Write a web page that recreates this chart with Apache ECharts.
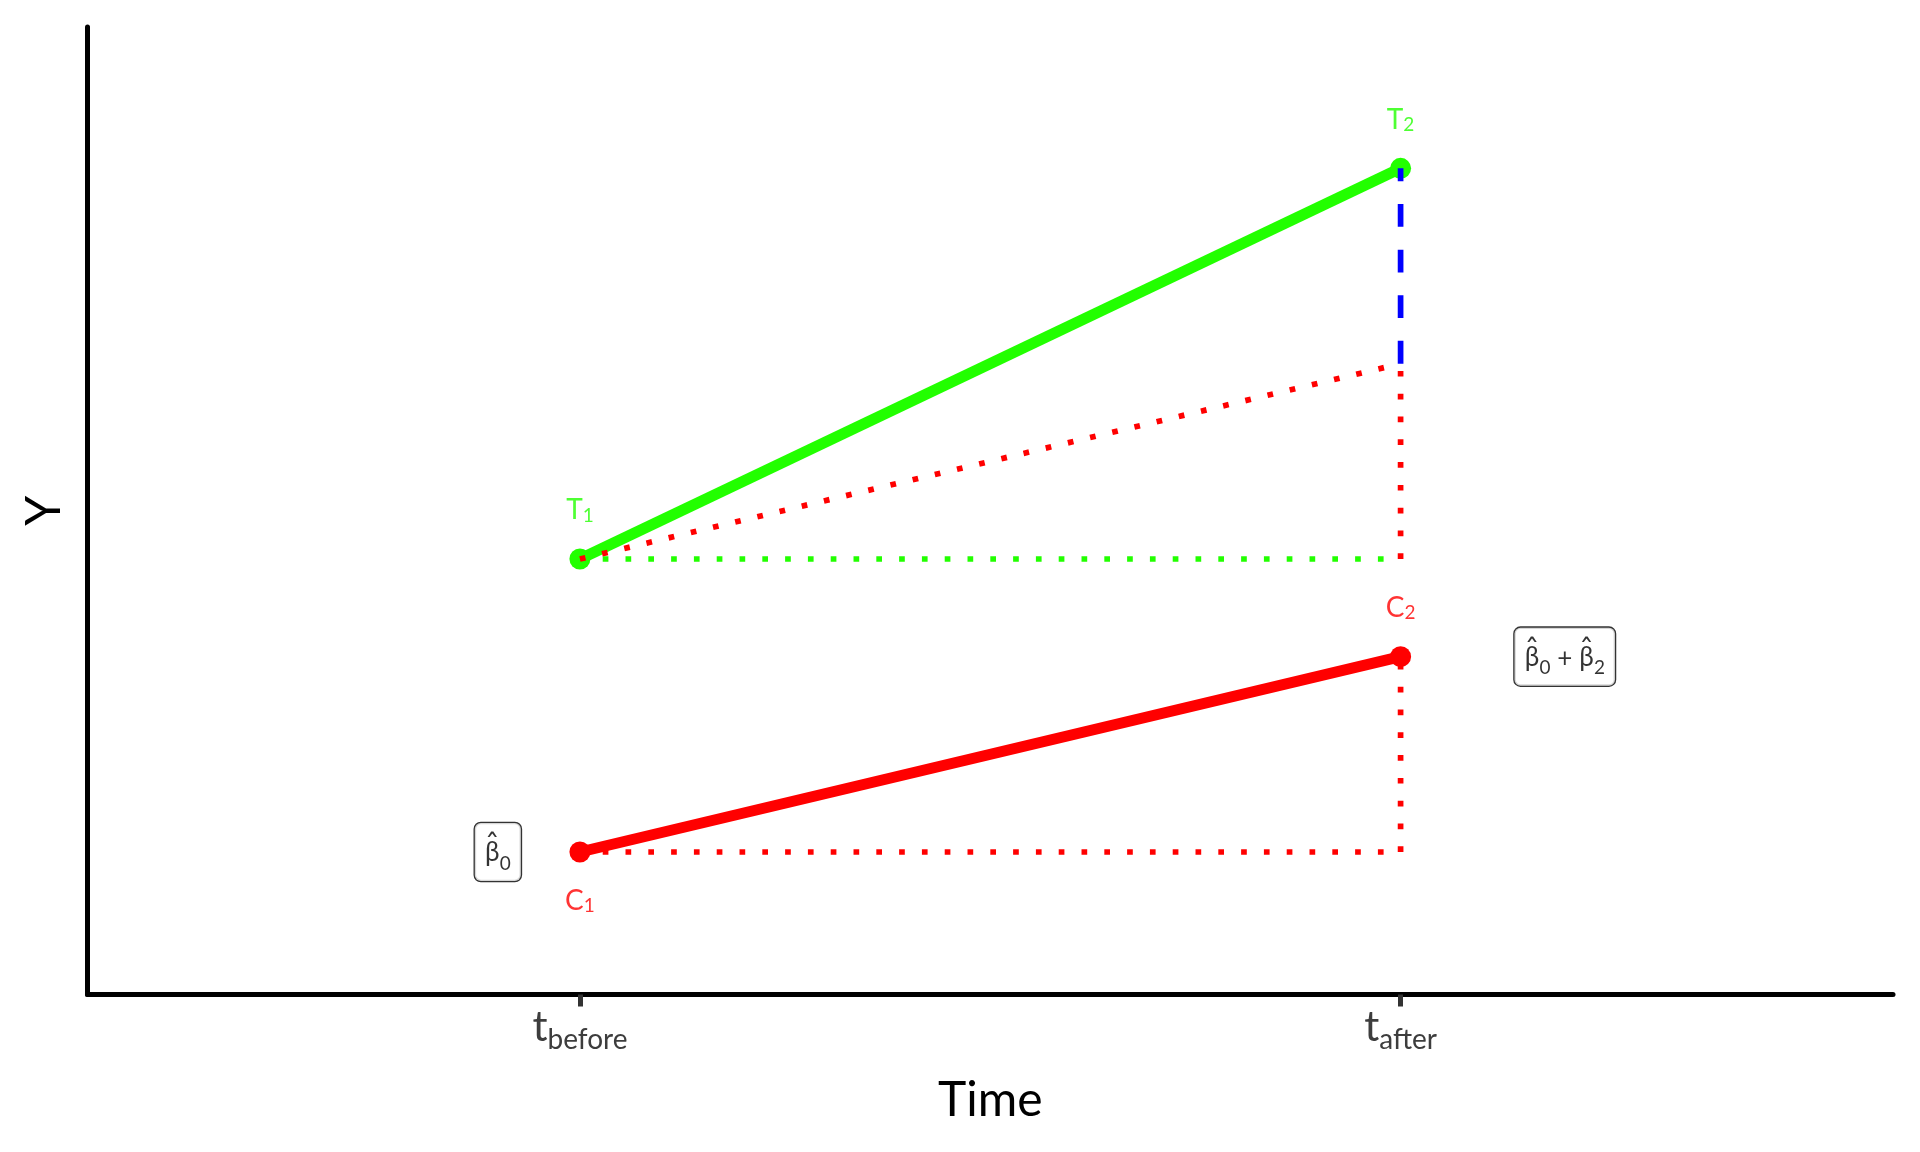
<!DOCTYPE html>
<html><head><meta charset="utf-8">
<script src="https://cdn.jsdelivr.net/npm/echarts@6/dist/echarts.min.js"></script>
<style>html,body{margin:0;padding:0;background:#fff}#c{width:1920px;height:1152px}</style>
</head><body><div id="c"></div>
<script>
// ---- data ----
const timePoints = [0, 1];
const tickSubs = ['before', 'after'];
const controlY = [2, 4];
const treatedY = [5, 9];
const counterfactualY = 7;
const pointLabelX = [0, 1, 0, 1];
const pointLabelY = [5.5, 9.5, 1.5, 4.5];
const pointLabelMain = ['T', 'T', 'C', 'C'];
const pointLabelSub = ['1', '2', '1', '2'];
const pointLabelGroup = ['treated', 'treated', 'control', 'control'];
const annoX = [-0.1, 1.2];
const annoY = [2, 4];
const annoSubs = [['0'], ['0', '2']];

const GREEN = '#22ff00', RED = '#ff0000', BLUE = '#0000ff';
const FONT = 'Lato';
const LW = 5.7;
const DOT = [LW, LW * 3];
const DASH = [LW * 4, LW * 4];

function seg(p, q, color, type, width, z) {
  return { type: 'line', data: [p, q], symbol: 'none', silent: true, z: z || 3,
    lineStyle: { color, width, type, cap: 'butt' } };
}

const t0 = timePoints[0], t1 = timePoints[1];
const series = [
  seg([t0, treatedY[0]], [t1, treatedY[1]], GREEN, 'solid', 11, 2),
  seg([t0, controlY[0]], [t1, controlY[1]], RED, 'solid', 11, 2),
  { type: 'scatter', symbolSize: 21, z: 2, silent: true, itemStyle: { color: GREEN, opacity: 1 },
    data: timePoints.map((t, i) => [t, treatedY[i]]) },
  { type: 'scatter', symbolSize: 21, z: 2, silent: true, itemStyle: { color: RED, opacity: 1 },
    data: timePoints.map((t, i) => [t, controlY[i]]) },
  seg([t0, treatedY[0]], [t1, treatedY[0]], GREEN, DOT, LW),
  seg([t0, treatedY[0]], [t1, counterfactualY], RED, DOT, LW),
  seg([t1, treatedY[0]], [t1, counterfactualY], RED, DOT, LW),
  seg([t0, controlY[0]], [t1, controlY[0]], RED, DOT, LW),
  seg([t1, controlY[0]], [t1, controlY[1]], RED, DOT, LW),
  seg([t1, counterfactualY], [t1, treatedY[1]], BLUE, DASH, LW),
  { type: 'scatter', symbolSize: 0.1, z: 5, silent: true, itemStyle: { color: 'transparent' },
    data: pointLabelX.map((x, i) => ({
      value: [x, pointLabelY[i]],
      label: { show: true, position: 'inside',
        formatter: '{m|' + pointLabelMain[i] + '}{s|' + pointLabelSub[i] + '}',
        rich: {
          m: { fontFamily: FONT, fontSize: 28, lineHeight: 28, color: pointLabelGroup[i] === 'treated' ? GREEN : RED },
          s: { fontFamily: FONT, fontSize: 19, lineHeight: 19, padding: [11, 0, 0, 0], color: pointLabelGroup[i] === 'treated' ? GREEN : RED }
        } }
    })) },
  { type: 'scatter', symbolSize: 0.1, z: 6, silent: true, itemStyle: { color: 'transparent' },
    data: annoX.map((x, i) => {
      const subs = annoSubs[i];
      const l1 = subs.map(s => '{h|ˆ}{hs|' + s + '}').join('{hp| + }');
      const l2 = subs.map(s => '{b|β}{s|' + s + '}').join('{p| + }');
      return {
        value: [x, annoY[i]],
        label: { show: true, position: 'inside', formatter: l1 + '\n' + l2,
          backgroundColor: '#fff', borderColor: '#000', borderWidth: 1.3, borderRadius: 6,
          padding: [0, 10, 0, 10],
          rich: {
            h: { fontFamily: 'DejaVu Sans', fontSize: 30, lineHeight: 17, width: 15, verticalAlign: 'top', padding: [10.5, 0, 0, 0], color: '#000' },
            hs: { fontFamily: FONT, fontSize: 19, lineHeight: 17, color: 'rgba(0,0,0,0)' },
            hp: { fontFamily: FONT, fontSize: 26, lineHeight: 17, color: 'rgba(0,0,0,0)' },
            b: { fontFamily: FONT, fontSize: 26, lineHeight: 41, width: 15, verticalAlign: 'top', color: '#000' },
            s: { fontFamily: FONT, fontSize: 19, lineHeight: 41, padding: [14, 0, 0, 0], verticalAlign: 'top', color: '#000' },
            p: { fontFamily: FONT, fontSize: 26, lineHeight: 41, padding: [1, 0, 0, 0], verticalAlign: 'top', color: '#000' }
          } }
      };
    }) }
];

const chart = echarts.init(document.getElementById('c'));
chart.setOption({
  animation: false,
  backgroundColor: '#fff',
  grid: { left: 87.5, right: 27, top: 27, bottom: 157.5, containLabel: false },
  xAxis: {
    type: 'value', min: -0.6, max: 1.6,
    splitLine: { show: false },
    axisLine: { onZero: false, lineStyle: { color: '#000', width: 5 } },
    axisTick: { show: true, customValues: timePoints, length: 12, lineStyle: { color: '#333', width: 5 } },
    axisLabel: {
      customValues: timePoints, margin: 12,
      formatter: v => '{t|t}{s|' + tickSubs[timePoints.indexOf(v)] + '}',
      rich: {
        t: { fontFamily: FONT, fontSize: 42, lineHeight: 42, color: '#3d3d3d' },
        s: { fontFamily: FONT, fontSize: 28, lineHeight: 28, padding: [25, 0, 0, 0], color: '#3d3d3d' }
      }
    },
    name: 'Time', nameLocation: 'middle', nameGap: 82,
    nameTextStyle: { fontFamily: FONT, fontSize: 48, color: '#000' }
  },
  yAxis: {
    type: 'value', min: 0.541, max: 10.447,
    splitLine: { show: false },
    axisLine: { onZero: false, lineStyle: { color: '#000', width: 5 } },
    axisTick: { show: false }, axisLabel: { show: false },
    name: 'Y', nameLocation: 'middle', nameGap: 19, nameRotate: 90,
    nameTextStyle: { fontFamily: FONT, fontSize: 48, color: '#000' }
  },
  series
});
</script></body></html>
